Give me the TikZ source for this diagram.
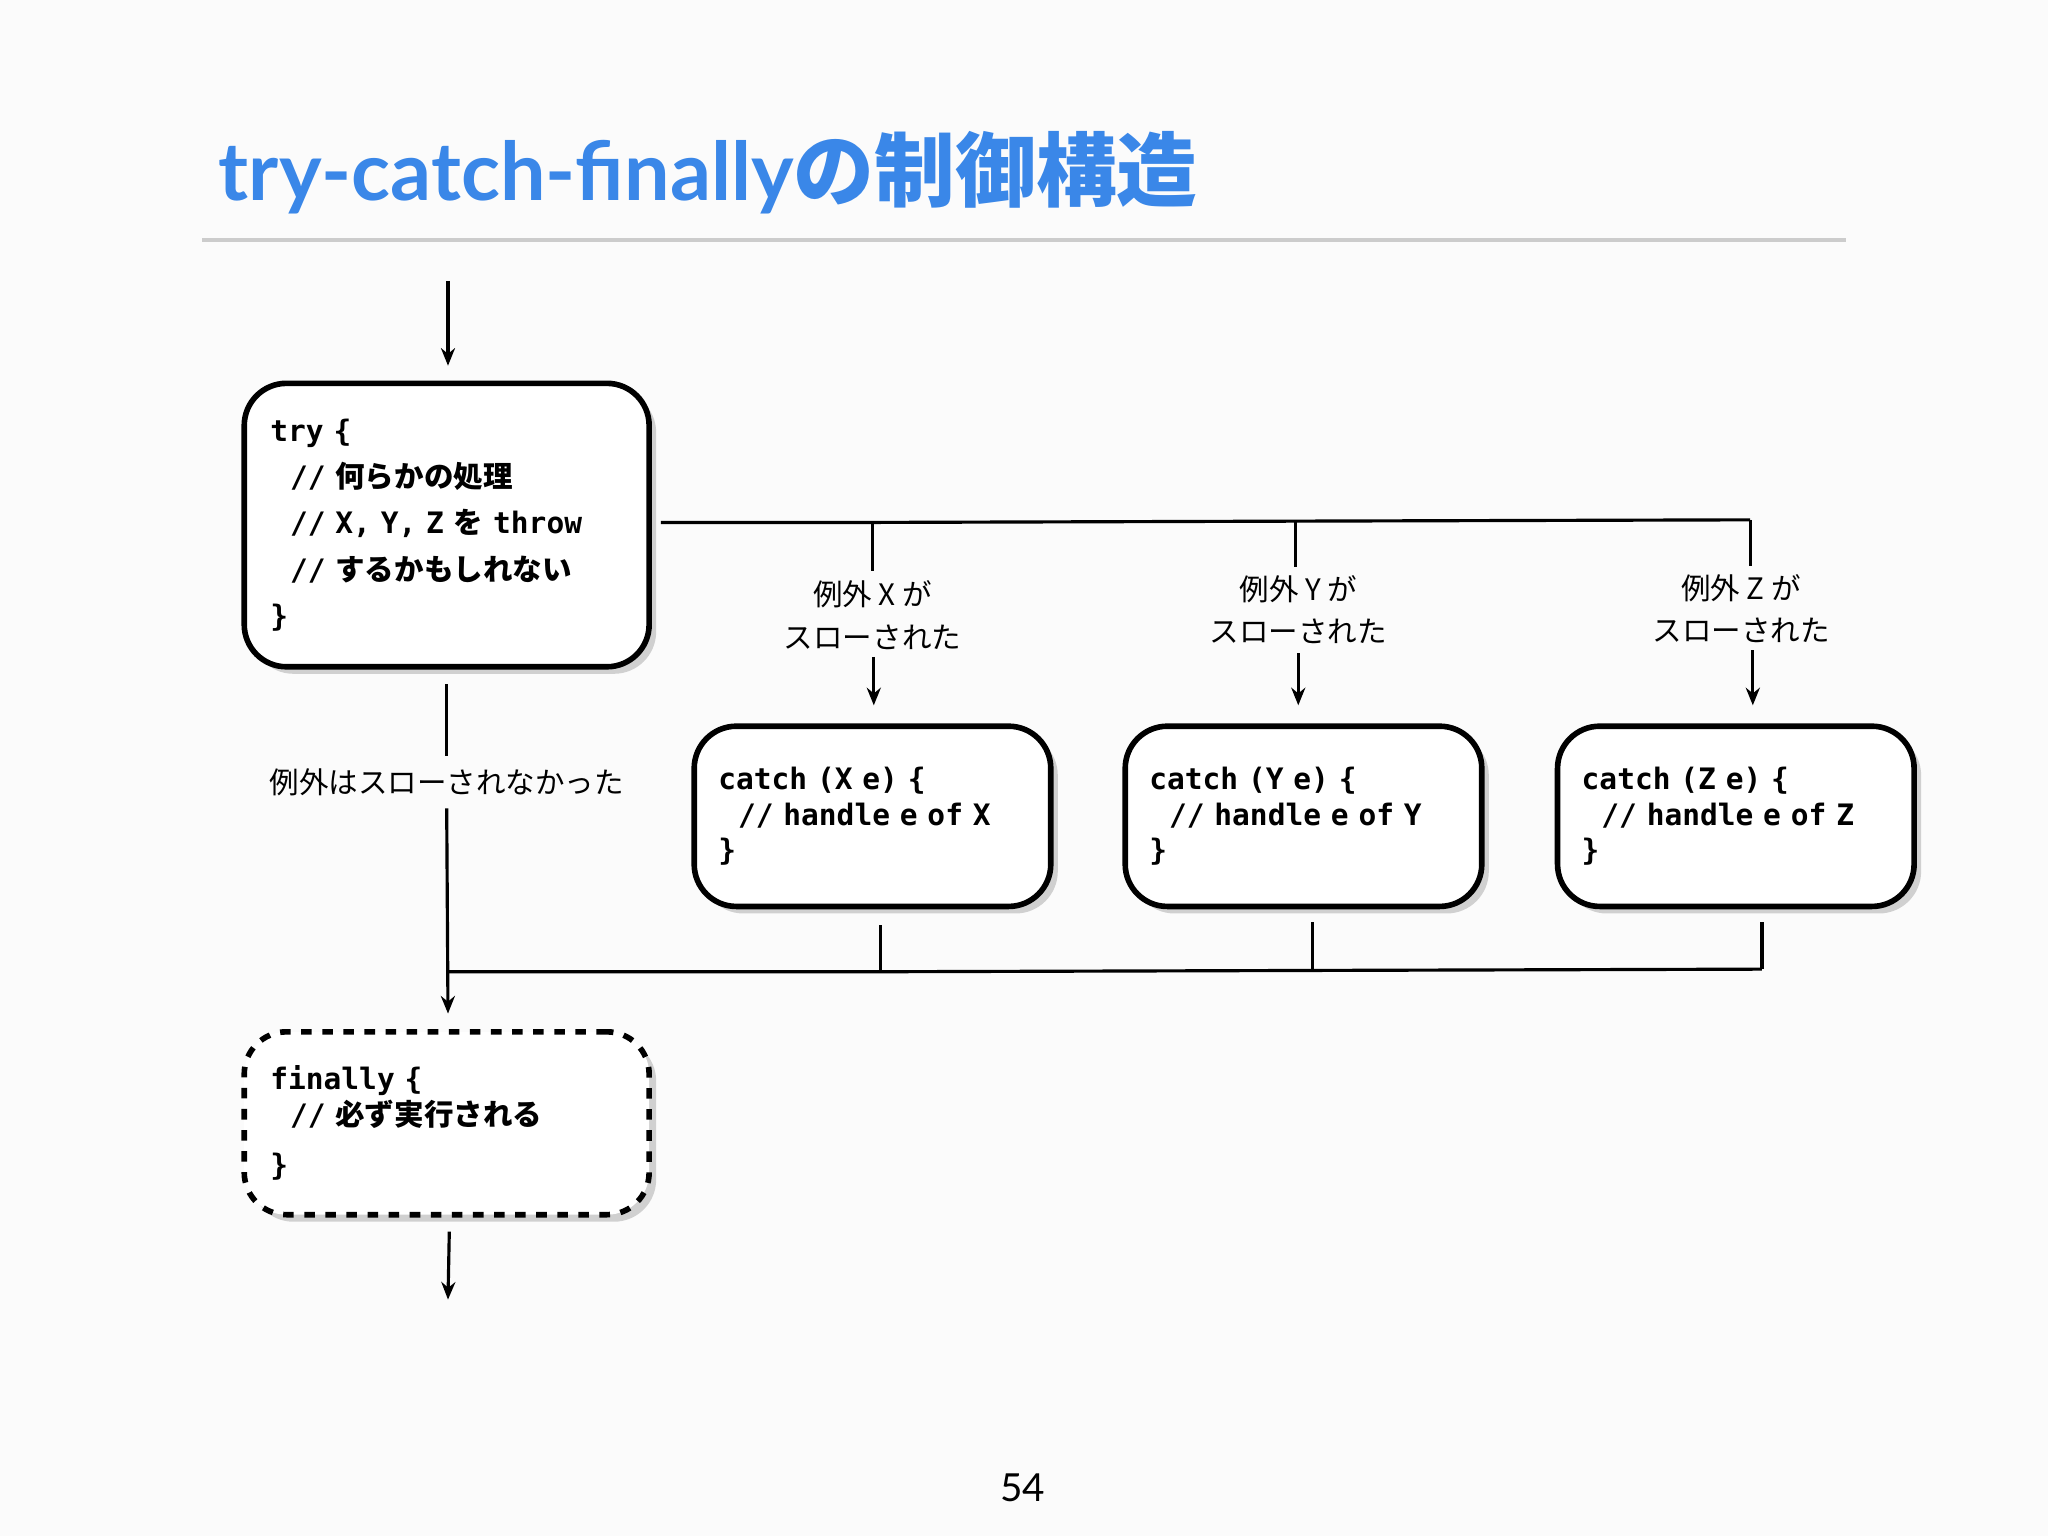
\documentclass[tikz,border=0pt]{standalone}
\usepackage{fontspec}
\setmainfont{Noto Sans CJK JP}
\setmonofont{DejaVu Sans Mono}
\newfontfamily\jp{Noto Sans CJK JP}
\newfontfamily\ttl{Lato}
\usetikzlibrary{shadows,arrows.meta}
\definecolor{ttlblue}{HTML}{3A87E8}
\begin{document}
\begin{tikzpicture}[x=0.013061cm,y=-0.013061cm,
  box/.style={draw=black,line width=1.6pt,rounded corners=12pt,fill=white,
    drop shadow={shadow xshift=2pt,shadow yshift=-2pt,opacity=0.35},
    align=left,font=\ttfamily\bfseries\fontsize{8.4}{10.2}\selectfont,inner sep=0pt},
  lab/.style={font=\jp\fontsize{8.4}{12}\selectfont,align=center},
  ln/.style={line width=0.9pt},
  arr/.style={ln,-{Stealth[length=5pt,width=4pt]}}]
\useasboundingbox (0,0) rectangle (1568,1176);
\fill[white!97!gray] (0,0) rectangle (1568,1176);
\node[font=\ttl\bfseries\fontsize{23}{26}\selectfont,text=ttlblue,anchor=west] (title) at (158,132) {try-catch-finally{\jp\bfseries の制御構造}};
\draw[gray!40,line width=1.2pt] (155,184) -- (1413,184);
% boxes
\node[box,text width=270*0.013061cm,minimum height=217*0.013061cm,minimum width=310*0.013061cm] (try) at (342,402)
 {try \{\\[3pt]\ \ // {\jp\bfseries 何らかの処理}\\[3pt]\ \ // X, Y, Z {\jp\bfseries を} throw\\[3pt]\ \ // {\jp\bfseries するかもしれない}\\[3pt]\}};
\node[box,text width=236*0.013061cm,minimum height=138*0.013061cm,minimum width=273*0.013061cm] (cx) at (668,625)
 {catch (X e) \{\\\ \ // handle e of X\\\}};
\node[box,text width=236*0.013061cm,minimum height=138*0.013061cm,minimum width=273*0.013061cm] (cy) at (998,625)
 {catch (Y e) \{\\\ \ // handle e of Y\\\}};
\node[box,text width=236*0.013061cm,minimum height=138*0.013061cm,minimum width=273*0.013061cm] (cz) at (1329,625)
 {catch (Z e) \{\\\ \ // handle e of Z\\\}};
\node[box,dashed,text width=270*0.013061cm,minimum height=140*0.013061cm,minimum width=310*0.013061cm] (fin) at (342,860)
 {finally \{\\\ \ // {\jp\bfseries 必ず実行される}\\[4pt]\}};
% coordinates
\coordinate (in) at (343,215);
\coordinate (out) at (343,995);
\coordinate (s) at (506,400);
\coordinate (jx) at (668,400);
\coordinate (jy) at (992,399);
\coordinate (jz) at (1340,398);
\coordinate (bx) at (674,744);
\coordinate (by) at (1005,743);
\coordinate (bz) at (1349,742);
\coordinate (bl) at (343,744);
% labels
\node[lab] (lx) at (668,471) {例外 X が\\スローされた};
\node[lab] (ly) at (994,467) {例外 Y が\\スローされた};
\node[lab] (lz) at (1333,466) {例外 Z が\\スローされた};
\node[lab] (ln) at (342,599) {例外はスローされなかった};
\node[font=\ttl\fontsize{11}{13}\selectfont] (pg) at (783,1139) {54};
% connectors
\draw[arr] (in) -- (343,280);
\draw[ln] (s) -- (jx) -- (jy) -- (jz);
\draw[ln] (jx) -- (668,437);
\draw[ln] (jy) -- (992,434);
\draw[ln] (jz) -- (1340,433);
\draw[arr] (669,503) -- (669,540);
\draw[arr] (994,500) -- (994,540);
\draw[arr] (1342,498) -- (1342,540);
\draw[ln] (342,524) -- (ln.north);
\draw[arr] (ln.south) -- (343,776);
\draw[ln] (bl) -- (bx) -- (by) -- (bz);
\draw[ln] (bx) -- (674,708);
\draw[ln] (by) -- (1005,706);
\draw[ln] (bz) -- (1349,706);
\draw[arr] (344,943) -- (out);
\end{tikzpicture}
\end{document}
